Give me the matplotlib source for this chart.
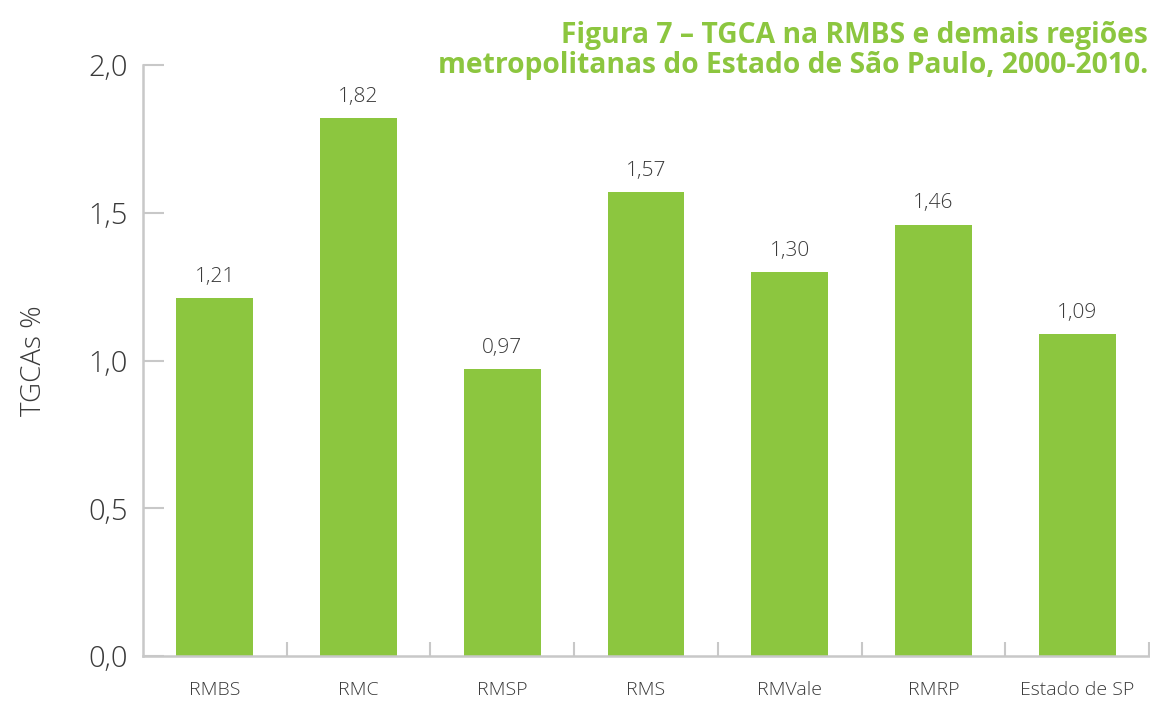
import matplotlib
matplotlib.use("Agg")
import matplotlib.pyplot as plt
from matplotlib.ticker import FixedLocator

categories = ["RMBS", "RMC", "RMSP", "RMS", "RMVale", "RMRP", "Estado de SP"]
values = [1.21, 1.82, 0.97, 1.57, 1.30, 1.46, 1.09]
value_labels = ["1,21", "1,82", "0,97", "1,57", "1,30", "1,46", "1,09"]
yticks = [0.0, 0.5, 1.0, 1.5, 2.0]
ytick_labels = ["0,0", "0,5", "1,0", "1,5", "2,0"]
title = "Figura 7 – TGCA na RMBS e demais regiões\nmetropolitanas do Estado de São Paulo, 2000-2010."
ylabel = "TGCAs %"

GREEN = "#8cc63f"
TEXT = "#3a3a3a"
AXIS = "#c8c8c8"

plt.rcParams['font.family'] = ['Open Sans', 'DejaVu Sans']

fig = plt.figure(figsize=(11.5, 7.02), dpi=100)
ax = fig.add_axes([143/1150, 1-656/702, (1149-143)/1150, (656-65)/702])

x = list(range(len(categories)))
ax.bar(x, values, width=0.535, color=GREEN, zorder=2)
for xi, v, lab in zip(x, values, value_labels):
    ax.annotate(lab, (xi, v), xytext=(0, 8), textcoords="offset points",
                ha="center", va="bottom", fontsize=15, color=TEXT, fontweight="light")

ax.set_xlim(-0.5, len(categories) - 0.5)
ax.set_ylim(0, 2.0)
ax.set_yticks(yticks)
ax.set_yticklabels(ytick_labels, fontsize=21, color=TEXT, fontweight="light")
ax.tick_params(axis="y", direction="in", length=15, width=1.5, color=AXIS, pad=11)

ax.set_xticks(x)
ax.set_xticklabels(categories, fontsize=14, color=TEXT, fontweight="light")
ax.tick_params(axis="x", length=0, pad=18)
ax.xaxis.set_minor_locator(FixedLocator([i + 0.5 for i in range(len(categories))]))
ax.tick_params(axis="x", which="minor", direction="in", length=10, width=1.5, color=AXIS)

for s in ["top", "right"]:
    ax.spines[s].set_visible(False)
for s in ["left", "bottom"]:
    ax.spines[s].set_color(AXIS)
    ax.spines[s].set_linewidth(1.8)

ax.set_ylabel(ylabel, fontsize=20, color=TEXT, fontweight="light", labelpad=29)

fig.text(1148/1150, 1-73/702, title, ha="right", va="baseline", fontsize=20.3,
         fontweight="bold", color=GREEN, linespacing=1.05)

fig.savefig("out.png", dpi=100)
